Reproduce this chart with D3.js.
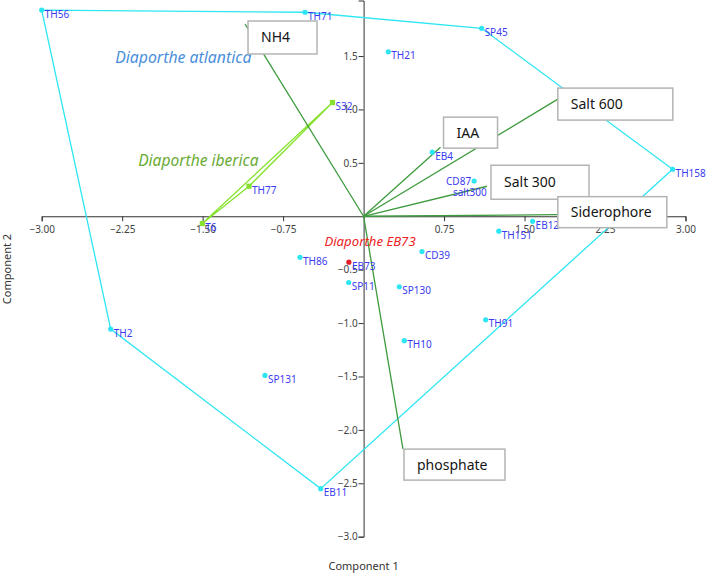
<!DOCTYPE html>
<html><head><meta charset="utf-8">
<script src="https://cdn.jsdelivr.net/npm/d3@7"></script>
<style>body{margin:0;background:#fff}svg{display:block}</style>
</head><body>
<script>
// ---- data ----
const atlNames = ["TH56","TH71","SP45","TH21","TH158","EB4","CD87","salt300","EB12","TH151","CD39","SP11","SP130","TH91","TH10","TH86","TH2","SP131","EB11"];
const atlC1 = [-3.00,-0.546,1.10,0.23,2.88,0.64,1.03,0.805,1.575,1.26,0.544,-0.139,0.333,1.138,0.379,-0.593,-2.357,-0.919,-0.40];
const atlC2 = [1.93,1.91,1.76,1.54,0.44,0.60,0.33,0.262,-0.047,-0.14,-0.33,-0.62,-0.66,-0.97,-1.165,-0.384,-1.056,-1.49,-2.55];
const atlHull = ["TH56","TH71","SP45","TH158","EB11","TH2"];
const ibeNames = ["S32","TH77","T6"];
const ibeC1 = [-0.29,-1.068,-1.503];
const ibeC2 = [1.065,0.281,-0.068];
const ibeHull = ["S32","TH77","T6"];
const eb73Names = ["EB73"];
const eb73C1 = [-0.137];
const eb73C2 = [-0.43];
const vecNames = ["NH4","IAA","Salt 600","Salt 300","Siderophore","phosphate"];
const vecC1 = [-1.105,0.717,1.81,1.15,1.81,0.367];
const vecC2 = [1.80,0.647,1.097,0.281,0.015,-2.18];
const groupNames = ["Diaporthe atlantica","Diaporthe iberica","Diaporthe EB73"];
const groupLabelC1 = [-1.68,-1.54,0.06];
const groupLabelC2 = [1.434,0.469,-0.275];
const xTicks = [-3.00,-2.25,-1.50,-0.75,0.75,1.50,2.25,3.00];
const yTicks = [-3.0,-2.5,-2.0,-1.5,-1.0,-0.5,0.5,1.0,1.5];

// ---- styles ----
const W=708,H=575;
const cyan="#2ee6f2", lime="#86e22e", dark="#3d9a3d", blueTxt="#3b3bf0";
const groupColors=["#4a8fdc","#6aab35","#ee2222"];
const groupSizes=[15.8,15.6,13.2];
const boxStyle={ "NH4":{w:69,h:33,dx:3,dy:-3}, "IAA":{w:54,h:31,dx:3,dy:-30},
  "Salt 600":{w:115,h:32,dx:0,dy:-11}, "Salt 300":{w:98,h:34,dx:4,dy:-21},
  "Siderophore":{w:109,h:31,dx:0,dy:-18}, "phosphate":{w:101,h:31,dx:1,dy:0} };
const hiddenDot=new Set(["salt300"]);
const leftLabel=new Set(["CD87"]);

const svg=d3.select("body").append("svg").attr("width",W).attr("height",H)
  .style("font-family","'Noto Sans', 'DejaVu Sans', sans-serif");
const x=d3.scaleLinear().domain([-3,3]).range([41.7,685.5]);
const y=d3.scaleLinear().domain([-3,2.02]).range([536.7,0.5]);

// axes crossing at origin
const xAxis=d3.axisBottom(x).tickValues(xTicks).tickFormat(d3.format(".2f")).tickSizeOuter(0).tickSize(5);
const gx=svg.append("g").attr("transform",`translate(0,${y(0)})`).call(xAxis);
gx.selectAll("text").attr("font-size",10).attr("fill","#444").attr("dy","0.9em");
const yAxis=d3.axisLeft(y).tickValues(yTicks).tickFormat(d3.format(".1f")).tickSizeOuter(0).tickSize(5);
const gy=svg.append("g").attr("transform",`translate(${x(0)},0)`).call(yAxis);
gy.selectAll("text").attr("font-size",10).attr("fill","#444").attr("x",-6);
svg.selectAll(".domain").attr("stroke","#333");
svg.selectAll(".tick line").attr("stroke","#333");
svg.selectAll("g").attr("font-family",null);

// axis titles
svg.append("text").attr("x",x(0)).attr("y",570).attr("text-anchor","middle").attr("font-size",11).attr("fill","#333").text("Component 1");
svg.append("text").attr("transform","translate(11,269) rotate(-90)").attr("text-anchor","middle").attr("font-size",11).attr("fill","#333").text("Component 2");

// build point tables
const mk=(n,a,b)=>n.map((d,i)=>({name:d,c1:a[i],c2:b[i]}));
const atl=mk(atlNames,atlC1,atlC2), ibe=mk(ibeNames,ibeC1,ibeC2), eb=mk(eb73Names,eb73C1,eb73C2);
const find=(arr,n)=>arr.find(p=>p.name===n);
const line=d3.line().x(d=>x(d.c1)).y(d=>y(d.c2));

// hulls
svg.append("path").attr("d",line(atlHull.map(n=>find(atl,n)))+"Z").attr("fill","none").attr("stroke",cyan).attr("stroke-width",1.3);
svg.append("path").attr("d",line(ibeHull.map(n=>find(ibe,n)))+"Z").attr("fill","none").attr("stroke",lime).attr("stroke-width",1.3);

// vectors
const vecs=mk(vecNames,vecC1,vecC2);
svg.append("g").selectAll("line").data(vecs).join("line")
  .attr("x1",x(0)).attr("y1",y(0)).attr("x2",d=>x(d.c1)).attr("y2",d=>y(d.c2))
  .attr("stroke",dark).attr("stroke-width",1.3);

// points
svg.append("g").selectAll("circle").data(atl.filter(d=>!hiddenDot.has(d.name))).join("circle")
  .attr("cx",d=>x(d.c1)).attr("cy",d=>y(d.c2)).attr("r",2.6).attr("fill",cyan);
svg.append("g").selectAll("rect").data(ibe).join("rect")
  .attr("x",d=>x(d.c1)-2.6).attr("y",d=>y(d.c2)-2.6).attr("width",5.2).attr("height",5.2).attr("fill",lime);
svg.append("g").selectAll("circle").data(eb).join("circle")
  .attr("cx",d=>x(d.c1)).attr("cy",d=>y(d.c2)).attr("r",2.6).attr("fill","#e01e2a");

// point labels
svg.append("g").selectAll("text").data(atl.concat(ibe,eb)).join("text")
  .attr("x",d=>leftLabel.has(d.name)?x(d.c1)-3:x(d.c1)+3)
  .attr("y",d=>y(d.c2)+(leftLabel.has(d.name)?0:4))
  .attr("dy","0.35em").attr("text-anchor",d=>leftLabel.has(d.name)?"end":"start")
  .attr("font-size",10).attr("fill",blueTxt).text(d=>d.name);

// group labels
svg.append("g").selectAll("text").data(groupNames).join("text")
  .attr("x",(d,i)=>x(groupLabelC1[i])).attr("y",(d,i)=>y(groupLabelC2[i]))
  .attr("text-anchor","middle").attr("font-size",(d,i)=>groupSizes[i]).attr("font-style","italic")
  .attr("fill",(d,i)=>groupColors[i]).text(d=>d);

// vector label boxes
const bx=svg.append("g").selectAll("g").data(vecs).join("g")
  .attr("transform",d=>{const s=boxStyle[d.name];return `translate(${x(d.c1)+s.dx},${y(d.c2)+s.dy})`;});
bx.append("rect").attr("width",d=>boxStyle[d.name].w).attr("height",d=>boxStyle[d.name].h)
  .attr("fill","#fff").attr("stroke","#b4b4b4").attr("stroke-width",1.5);
bx.append("text").attr("x",13).attr("y",d=>boxStyle[d.name].h/2).attr("dy","0.35em")
  .attr("font-size",14).attr("fill","#151515").text(d=>d.name);
</script>
</body></html>
